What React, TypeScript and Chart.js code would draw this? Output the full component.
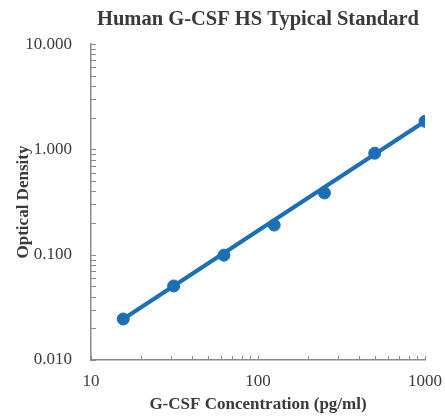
import React, { useEffect, useRef } from "react";
import { Chart, registerables } from "chart.js";

Chart.register(...registerables);

const titleText = "Human G-CSF HS Typical Standard";
const xTitle = "G-CSF Concentration (pg/ml)";
const yTitle = "Optical Density";

const concentrations = [15.6, 31.25, 62.5, 125, 250, 500, 1000];
const odValues = [0.0245, 0.0505, 0.099, 0.191, 0.386, 0.92, 1.85];

const fitConc = [15.6, 1000];
const fitOD = [0.0245, 1.85];

const xMajorTicks = [10, 100, 1000];
const yMajorTicks = [0.01, 0.1, 1, 10];
const minorMultipliers = [1, 2, 3, 4, 5, 6, 7, 8, 9];

const BLUE = "#1c6fb6";
const AXIS = "#8a8a8a";
const TEXT = "#3a3a3a";
const SERIF = "'Liberation Serif', 'Times New Roman', serif";

const innerTicks = {
  id: "innerTicks",
  afterDraw(chart: any) {
    const { ctx, chartArea, scales } = chart;
    const x = scales.x;
    const y = scales.y;
    ctx.save();
    ctx.strokeStyle = AXIS;
    ctx.lineWidth = 1;
    for (const d of yMajorTicks) {
      for (const m of minorMultipliers) {
        const v = d * m;
        if (v > y.max + 1e-9) continue;
        const py = Math.round(y.getPixelForValue(v)) + 0.5;
        ctx.beginPath();
        ctx.moveTo(chartArea.left, py);
        ctx.lineTo(chartArea.left + 5, py);
        ctx.stroke();
      }
    }
    for (const d of xMajorTicks) {
      for (const m of minorMultipliers) {
        const v = d * m;
        if (v > x.max + 1e-9) continue;
        const px = Math.round(x.getPixelForValue(v)) + 0.5;
        ctx.beginPath();
        ctx.moveTo(px, chartArea.bottom);
        ctx.lineTo(px, chartArea.bottom - 4);
        ctx.stroke();
      }
    }
    ctx.restore();
  },
};

export default function App() {
  const ref = useRef<HTMLCanvasElement>(null);
  useEffect(() => {
    if (!ref.current) return;
    const chart = new Chart(ref.current, {
      type: "scatter",
      data: {
        datasets: [
          {
            type: "line",
            data: fitConc.map((c, i) => ({ x: c, y: fitOD[i] })),
            borderColor: BLUE,
            borderWidth: 4,
            pointRadius: 0,
            fill: false,
            order: 2,
          },
          {
            type: "scatter",
            data: concentrations.map((c, i) => ({ x: c, y: odValues[i] })),
            backgroundColor: BLUE,
            borderColor: BLUE,
            pointRadius: 6,
            showLine: false,
            order: 1,
          },
        ],
      },
      options: {
        animation: false,
        responsive: false,
        layout: { padding: { left: 0, right: 12, top: 0, bottom: 0 } },
        plugins: {
          legend: { display: false },
          tooltip: { enabled: false },
          title: {
            display: true,
            text: titleText,
            fullSize: false,
            color: TEXT,
            font: { family: SERIF, size: 20.5, weight: "bold" },
            padding: { top: 7.5, bottom: 12 },
          },
        },
        scales: {
          x: {
            type: "logarithmic",
            min: 10,
            max: 1000,
            grid: { display: false },
            border: { display: true, color: AXIS, width: 1.5 },
            afterBuildTicks: (s: any) => {
              s.ticks = xMajorTicks.map((v) => ({ value: v }));
            },
            afterFit: (s: any) => {
              s.height = 59;
            },
            ticks: {
              color: TEXT,
              padding: 3,
              maxRotation: 0,
              font: { family: SERIF, size: 17 },
              callback: (v: any) => String(v),
            },
            title: {
              display: true,
              text: xTitle,
              color: TEXT,
              font: { family: SERIF, size: 17, weight: "bold" },
              padding: { top: 0, bottom: 4 },
            },
          },
          y: {
            type: "logarithmic",
            min: 0.01,
            max: 10,
            grid: { display: false },
            border: { display: true, color: AXIS, width: 1.5 },
            afterBuildTicks: (s: any) => {
              s.ticks = yMajorTicks.map((v) => ({ value: v }));
            },
            afterFit: (s: any) => {
              s.width = 91;
            },
            ticks: {
              color: TEXT,
              padding: 11,
              font: { family: SERIF, size: 17 },
              callback: (v: any) => Number(v).toFixed(3),
            },
            title: {
              display: true,
              text: yTitle,
              color: TEXT,
              font: { family: SERIF, size: 17, weight: "bold" },
              padding: { top: 13, bottom: 0 },
            },
          },
        },
      },
      plugins: [innerTicks],
    } as any);
    return () => chart.destroy();
  }, []);
  return (
    <div style={{ position: "absolute", left: 0, top: 0, width: 445, height: 419, background: "#fff" }}>
      <canvas ref={ref} width={445} height={419} style={{ display: "block" }} />
    </div>
  );
}
